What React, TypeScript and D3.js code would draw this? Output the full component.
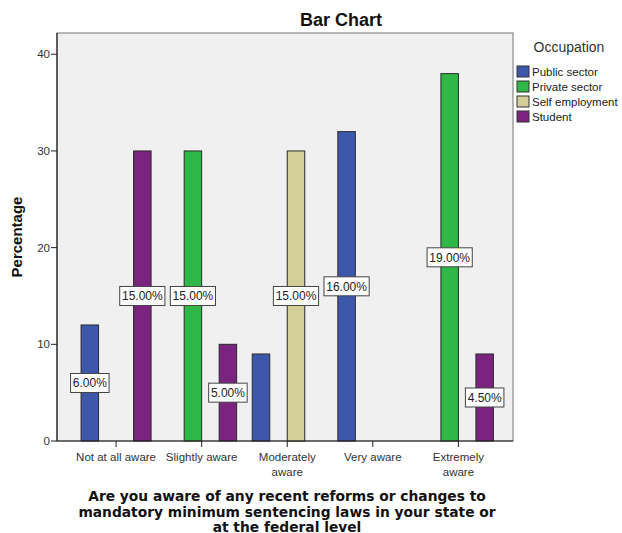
import React from "react";
import * as d3 from "d3";

const categories = ["Not at all aware", "Slightly aware", "Moderately aware", "Very aware", "Extremely aware"];
const categoryLines = [["Not at all aware"], ["Slightly aware"], ["Moderately", "aware"], ["Very aware"], ["Extremely", "aware"]];
const seriesNames = ["Public sector", "Private sector", "Self employment", "Student"];
const seriesColors = ["#3d58ab", "#2fb847", "#d4cf98", "#7a2480"];
const publicSector = [12, 0, 9, 32, 0];
const privateSector = [0, 30, 0, 0, 38];
const selfEmployment = [0, 0, 30, 0, 0];
const student = [30, 10, 0, 0, 9];
const publicLabels = [6, null, null, 16, null];
const privateLabels = [null, 15, null, null, 19];
const selfLabels = [null, null, 15, null, null];
const studentLabels = [15, 5, null, null, 4.5];
const yTicks = [0, 10, 20, 30, 40];
const xTitleLines = [
  "Are you aware of any recent reforms or changes to",
  "mandatory minimum sentencing laws in your state or",
  "at the federal level",
];

const seriesValues = [publicSector, privateSector, selfEmployment, student];
const seriesLabels = [publicLabels, privateLabels, selfLabels, studentLabels];

export default function App() {
  const W = 622, H = 533;
  const left = 57, right = 513, top = 33, bottom = 441;
  const x = d3.scaleBand<string>().domain(categories).range([left, right]).paddingInner(0).paddingOuter(0.164).align(0.58);
  const sub = d3.scaleBand<string>().domain(seriesNames).range([0, 70]).padding(0);
  const y = d3.scaleLinear().domain([0, 42.2]).range([bottom, top]);
  const bw = sub.bandwidth();
  const subOffset = x.bandwidth() / 2 - 35;
  const fmt = d3.format(".2f");
  const labelFont = "'Liberation Sans', Arial, sans-serif";

  return (
    <svg width={W} height={H} style={{ position: "absolute", left: 0, top: 0, background: "#fff" }}>
      <text x={341} y={26} textAnchor="middle" fontFamily={labelFont} fontWeight="bold" fontSize={18} fill="#111">Bar Chart</text>
      <rect x={left} y={top} width={right - left} height={bottom - top} fill="#f0f0f0" stroke="#8a8a8a" strokeWidth={1.2} />
      {seriesValues.map((vals, si) =>
        vals.map((v, ci) =>
          v > 0 ? (
            <rect key={`b${si}-${ci}`} x={(x(categories[ci]) as number) + subOffset + (sub(seriesNames[si]) as number)} y={y(v)} width={bw} height={y(0) - y(v)} fill={seriesColors[si]} stroke="#2a2a2a" strokeWidth={1} />
          ) : null
        )
      )}
      {seriesLabels.map((labs, si) =>
        labs.map((lv, ci) => {
          if (lv == null) return null;
          const cx = (x(categories[ci]) as number) + subOffset + (sub(seriesNames[si]) as number) + bw / 2;
          const t = fmt(lv) + "%";
          const w = t.length * 6.7 + 5;
          return (
            <g key={`l${si}-${ci}`}>
              <rect x={cx - w / 2} y={y(lv) - 9.5} width={w} height={19} fill="#fff" stroke="#444" strokeWidth={1} />
              <text x={cx} y={y(lv) + 4.3} textAnchor="middle" fontFamily={labelFont} fontSize={12} fill="#222">{t}</text>
            </g>
          );
        })
      )}
      {/* y axis */}
      <line x1={left} y1={top} x2={left} y2={bottom} stroke="#222" strokeWidth={1.2} />
      {yTicks.map((t) => (
        <g key={`yt${t}`}>
          <line x1={left - 6} x2={left} y1={y(t)} y2={y(t)} stroke="#222" />
          <text x={left - 7} y={y(t) + 4} textAnchor="end" fontFamily={labelFont} fontSize={11.5} fill="#333">{t}</text>
        </g>
      ))}
      <text transform={`translate(22,237) rotate(-90)`} textAnchor="middle" fontFamily={labelFont} fontWeight="bold" fontSize={15} fill="#111">Percentage</text>
      {/* x axis */}
      <line x1={left} y1={bottom} x2={right} y2={bottom} stroke="#222" strokeWidth={1.2} />
      {categories.map((c, i) => {
        const cx = (x(c) as number) + x.bandwidth() / 2;
        return (
          <g key={`xt${i}`}>
            <line x1={cx} x2={cx} y1={bottom} y2={bottom + 6} stroke="#222" />
            {categoryLines[i].map((ln, k) => (
              <text key={k} x={cx} y={461 + k * 15} textAnchor="middle" fontFamily={labelFont} fontSize={11.5} fill="#333">{ln}</text>
            ))}
          </g>
        );
      })}
      {xTitleLines.map((ln, k) => (
        <text key={`xl${k}`} x={287} y={501 + k * 15.5} textAnchor="middle" fontFamily="'DejaVu Sans', Verdana, sans-serif" fontWeight="bold" fontSize={13.8} fill="#111">{ln}</text>
      ))}
      {/* legend */}
      <text x={569} y={52} textAnchor="middle" fontFamily={labelFont} fontSize={14} fill="#333">Occupation</text>
      {seriesNames.map((s, i) => (
        <g key={`lg${i}`}>
          <rect x={517} y={66 + i * 15} width={12} height={11} fill={seriesColors[i]} stroke="#333" strokeWidth={1} />
          <text x={532} y={75.5 + i * 15} fontFamily={labelFont} fontSize={11.5} fill="#222">{s}</text>
        </g>
      ))}
    </svg>
  );
}
